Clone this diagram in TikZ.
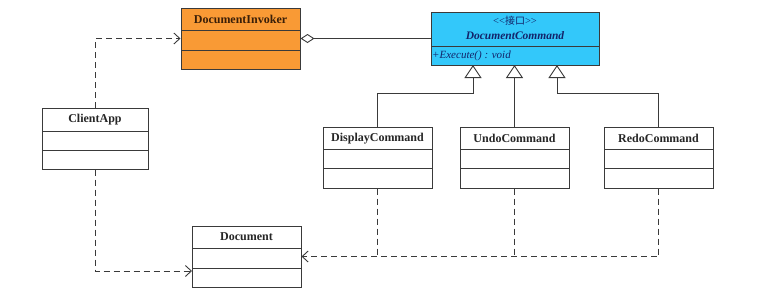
\documentclass[tikz,border=0pt]{standalone}
\usepackage{fontspec}
\setmainfont{Liberation Serif}
\newfontfamily\cjk{Noto Sans CJK SC}
\usetikzlibrary{arrows.meta,calc}
\definecolor{invfill}{HTML}{F99A35}
\definecolor{cmdfill}{HTML}{33C8FA}
\definecolor{edge}{HTML}{3A3A3A}
\definecolor{invtext}{HTML}{3A1F08}
\definecolor{cmdtext}{HTML}{13246A}
\tikzset{
  cls/.style={draw=edge, line width=1pt, rectangle, inner sep=0pt},
  ttl/.style={font=\fontsize{12}{14}\selectfont\bfseries, text=black!85, inner sep=0pt},
  conn/.style={draw=edge, line width=0.9pt},
  inh/.style={conn, -{Triangle[open,length=13pt,width=17pt,fill=white]}},
  dep/.style={conn, dash pattern=on 6pt off 4pt, -{Straight Barb[length=6pt,width=11pt]}},
  depline/.style={conn, dash pattern=on 6pt off 4pt},
  agg/.style={conn, {Diamond[open,length=14pt,width=9pt,fill=white]}-},
}
\begin{document}
\begin{tikzpicture}[x=1pt,y=-1pt]
\useasboundingbox (0,0) rectangle (760,293);
\fill[white] (0,0) rectangle (760,293);

% DocumentInvoker
\node[cls, fill=invfill, minimum width=119pt, minimum height=61pt] (inv) at (240.5,38.5) {};
\draw[draw=edge, line width=1pt] (181,30) -- (300,30) (181,50) -- (300,50);
\node[ttl, text=invtext] (invt) at (240.5,19.5) {DocumentInvoker};

% DocumentCommand
\node[cls, fill=cmdfill, minimum width=168pt, minimum height=53pt] (cmd) at (515,38.5) {};
\draw[draw=edge, line width=1pt] (431,46) -- (599,46);
\node[inner sep=0pt, text=cmdtext, font=\fontsize{10.5}{12}\selectfont] (cmds) at (515,21) {{<}{<}{\cjk\fontsize{10}{12}\selectfont 接口}{>}{>}};
\node[inner sep=0pt, text=cmdtext, font=\fontsize{11.5}{14}\selectfont\bfseries\itshape] (cmdn) at (515,35.5) {DocumentCommand};
\node[inner sep=0pt, text=cmdtext, font=\fontsize{11}{13}\selectfont\itshape, anchor=west] (cmdm) at (432,56) {+Execute() : void};

% ClientApp
\node[cls, fill=white, minimum width=106pt, minimum height=61pt] (client) at (95,138.5) {};
\draw[draw=edge, line width=1pt] (42,131) -- (148,131) (42,150) -- (148,150);
\node[ttl] (clientt) at (95,120) {ClientApp};

% Command subclasses
\node[cls, fill=white, minimum width=109pt, minimum height=61pt] (disp) at (377.5,157.5) {};
\draw[draw=edge, line width=1pt] (323,149) -- (432,149) (323,168) -- (432,168);
\node[ttl] (dispt) at (377.5,138.5) {DisplayCommand};

\node[cls, fill=white, minimum width=109pt, minimum height=61pt] (undo) at (514.5,157.5) {};
\draw[draw=edge, line width=1pt] (460,149) -- (569,149) (460,168) -- (569,168);
\node[ttl] (undot) at (514.5,138.5) {UndoCommand};

\node[cls, fill=white, minimum width=109pt, minimum height=61pt] (redo) at (658.5,157.5) {};
\draw[draw=edge, line width=1pt] (604,149) -- (713,149) (604,168) -- (713,168);
\node[ttl] (redot) at (658.5,138.5) {RedoCommand};

% Document
\node[cls, fill=white, minimum width=109pt, minimum height=61pt] (doc) at (246.5,256.5) {};
\draw[draw=edge, line width=1pt] (192,248) -- (301,248) (192,268) -- (301,268);
\node[ttl] (doct) at (246.5,237) {Document};

% coordinates
\coordinate (t1) at (473,65);
\coordinate (t2) at (514.5,65);
\coordinate (t3) at (557,65);
\coordinate (d1) at (192,271);

% aggregation
\draw[agg] (inv.east) -- (cmd.west);

% inheritance
\draw[inh] (disp.north) -- ++(0,-33) -| (t1);
\draw[inh] (undo.north) -- (t2);
\draw[inh] (redo.north) -- ++(0,-33) -| (t3);

% dependencies
\draw[dep] (client.north) |- (inv.west);
\draw[dep] (client.south) |- (d1);
\draw[dep] (redo.south) |- (doc.east);
\draw[depline] (disp.south) -- (disp.south |- doc.east);
\draw[depline] (undo.south) -- (undo.south |- doc.east);
\end{tikzpicture}
\end{document}
